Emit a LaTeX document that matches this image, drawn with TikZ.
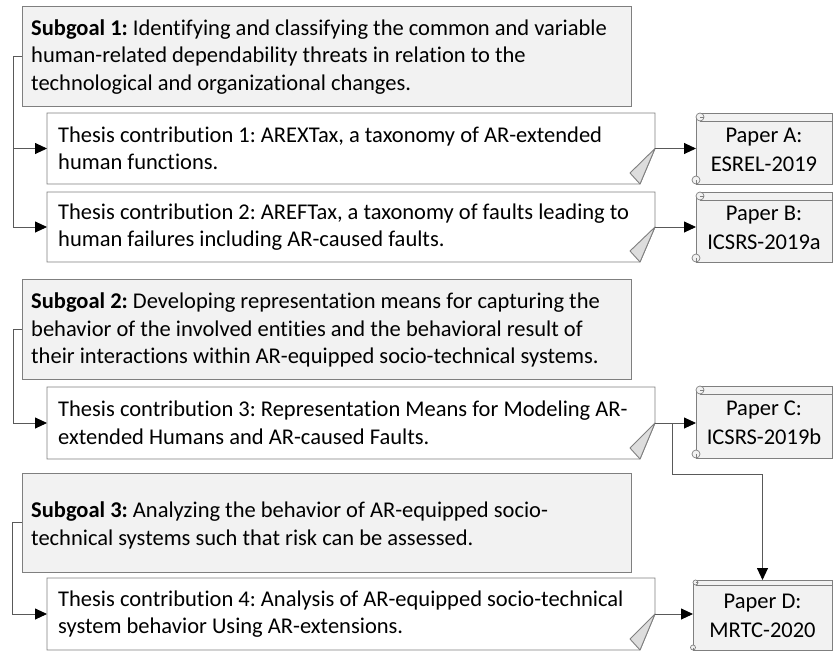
\documentclass[tikz,border=0pt]{standalone}
\usepackage{fontspec}
\setmainfont{Carlito}[Ligatures=NoCommon]
\usetikzlibrary{arrows.meta,calc}
\frenchspacing

\definecolor{boxline}{HTML}{7F7F7F}
\definecolor{goalfill}{HTML}{F2F2F2}
\definecolor{foldfill}{HTML}{DDDDDD}
\definecolor{wirecol}{HTML}{595959}

% Note-shaped outline (folded lower right corner) around a named node
\newcommand{\drawnote}[1]{%
  \draw[boxline, line width=0.9pt, fill=white, line join=miter]
    (#1.north west) -- (#1.north east) -- (#1.east)
    -- ($(#1.south east)+(-15,0)$) -- (#1.south west) -- cycle;
  \draw[boxline, line width=0.9pt, fill=foldfill, line join=round]
    (#1.east) -- ($(#1.south east)+(-25,-11)$) -- ($(#1.south east)+(-15,0)$) -- cycle;
}

% Scroll outline around a named node, #2 = curl radius
\newcommand{\drawscroll}[2]{%
  \fill[goalfill] ($(#1.north west)+(#2,0)$) -- (#1.north east) -- (#1.south east)
    -- (#1.south west) -- ($(#1.north west)+(0,#2)$) -- cycle;
  \draw[boxline, line width=0.9pt]
    ($(#1.north west)+(#2,0)$) -- (#1.north east) -- (#1.south east)
    -- ($(#1.south west)$);
  \draw[boxline, line width=0.9pt]
    ($(#1.north west)+(#2,2*#2)$) -- ($(#1.north east)+(0,2*#2)$);
  \draw[boxline, line width=0.9pt]
    ($(#1.north west)+(0,#2)$) -- ($(#1.south west)+(0,-2*#2)$);
  \draw[boxline, line width=0.7pt, fill=goalfill]
    ($(#1.north west)+(#2,#2)$) circle[radius=#2];
  \draw[boxline, line width=0.7pt, fill=goalfill]
    ($(#1.south west)+(0,-#2)$) circle[radius=#2];
  \draw[boxline, line width=0.5pt]
    ($(#1.north west)+(#2,#2)$) -- ++(#2,0);
  \draw[boxline, line width=0.5pt]
    ($(#1.south west)+(0,-#2)$) -- ++(0,#2);
}

\begin{document}
\begin{tikzpicture}[x=1pt,y=-1pt,
  goal/.style={draw=boxline, fill=goalfill, line width=0.9pt,
    minimum width=609pt, inner sep=0pt, outer sep=0pt},
  contrib/.style={inner sep=0pt, outer sep=0pt, minimum width=608pt},
  paper/.style={inner sep=0pt, outer sep=0pt, align=center,
    font=\fontsize{22.5}{29}\selectfont},
  txt/.style={anchor=west, align=left, inner sep=0pt,
    font=\fontsize{22.5}{27.5}\selectfont},
  wire/.style={draw=wirecol, line width=0.9pt},
  tip/.style={wire, -{Triangle[length=12pt,width=11pt,color=black,fill=black]}}
]
\useasboundingbox (0,0) rectangle (833,651);

% ---------- subgoal boxes ----------
\node[goal, minimum height=100pt] (s1) at (326.5,56) {};
\node[goal, minimum height=100pt] (s2) at (326.5,329) {};
\node[goal, minimum height=99pt] (s3) at (326.5,522.5) {};

\node[txt] (s1t) at ($(s1.west)+(9,1)$)
  {\textbf{Subgoal 1:} Identifying and classifying the common and variable\\
   human-related dependability threats in relation to the\\
   technological and organizational changes.};
\node[txt] (s2t) at ($(s2.west)+(9,1)$)
  {\textbf{Subgoal 2:} Developing representation means for capturing the\\
   behavior of the involved entities and the behavioral result of\\
   their interactions within AR-equipped socio-technical systems.};
\node[txt] (s3t) at ($(s3.west)+(9,3)$)
  {\textbf{Subgoal 3:} Analyzing the behavior of AR-equipped socio-\\
   technical systems such that risk can be assessed.};

% ---------- thesis contributions ----------
\node[contrib, minimum height=71pt] (c1) at (351,148.5) {};
\node[contrib, minimum height=70pt] (c2) at (351,227) {};
\node[contrib, minimum height=72pt] (c3) at (351,423) {};
\node[contrib, minimum height=72pt] (c4) at (351,614) {};
\drawnote{c1}
\drawnote{c2}
\drawnote{c3}
\drawnote{c4}

\node[txt] (c1t) at ($(c1.west)+(11,0)$)
  {Thesis contribution 1: AREXTax, a taxonomy of AR-extended\\human functions.};
\node[txt] (c2t) at ($(c2.west)+(11,0)$)
  {Thesis contribution 2: AREFTax, a taxonomy of faults leading to\\human failures including AR-caused faults.};
\node[txt] (c3t) at ($(c3.west)+(11,0)$)
  {Thesis contribution 3: Representation Means for Modeling AR-\\extended Humans and AR-caused Faults.};
\node[txt] (c4t) at ($(c4.west)+(11,0)$)
  {Thesis contribution 4: Analysis of AR-equipped socio-technical\\system behavior Using AR-extensions.};

% ---------- papers ----------
\node[paper, minimum width=136pt, minimum height=71pt] (pa) at (764,148.5) {};
\node[paper, minimum width=136pt, minimum height=70pt] (pb) at (764,227) {};
\node[paper, minimum width=136pt, minimum height=72pt] (pc) at (764,422) {};
\node[paper, minimum width=139pt, minimum height=70pt] (pd) at (762.5,615) {};
\drawscroll{pa}{4}
\drawscroll{pb}{4}
\drawscroll{pc}{4}
\drawscroll{pd}{2.5}
\node[paper] (pat) at ($(pa)+(0,1)$) {Paper A:\\ESREL-2019};
\node[paper] (pbt) at ($(pb)+(0,1)$) {Paper B:\\ICSRS-2019a};
\node[paper] (pct) at ($(pc)+(0,1)$) {Paper C:\\ICSRS-2019b};
\node[paper] (pdt) at ($(pd)+(0,1)$) {Paper D:\\MRTC-2020};

% ---------- connectors: subgoals to contributions ----------
\draw[tip] (s1.west) -- ++(-9,0) |- (c1.west);
\draw[tip] (s1.west) -- ++(-9,0) |- (c2.west);
\draw[tip] (s2.west) -- ++(-9,0) |- (c3.west);
\draw[tip] (s3.west) -- ++(-10,0) |- (c4.west);

% ---------- connectors: contributions to papers ----------
\draw[tip] (c1.east) -- (c1.east -| pa.west);
\draw[tip] (c2.east) -- (c2.east -| pb.west);
\draw[tip] (c3.east) -- (c3.east -| pc.west);
\draw[tip] (c4.east) -- (c4.east -| pd.west);
\coordinate (br) at ($(c3.east)+(17,0)$);
\draw[tip] (br) -- ++(0,51) -| (pd.north);
\end{tikzpicture}
\end{document}
